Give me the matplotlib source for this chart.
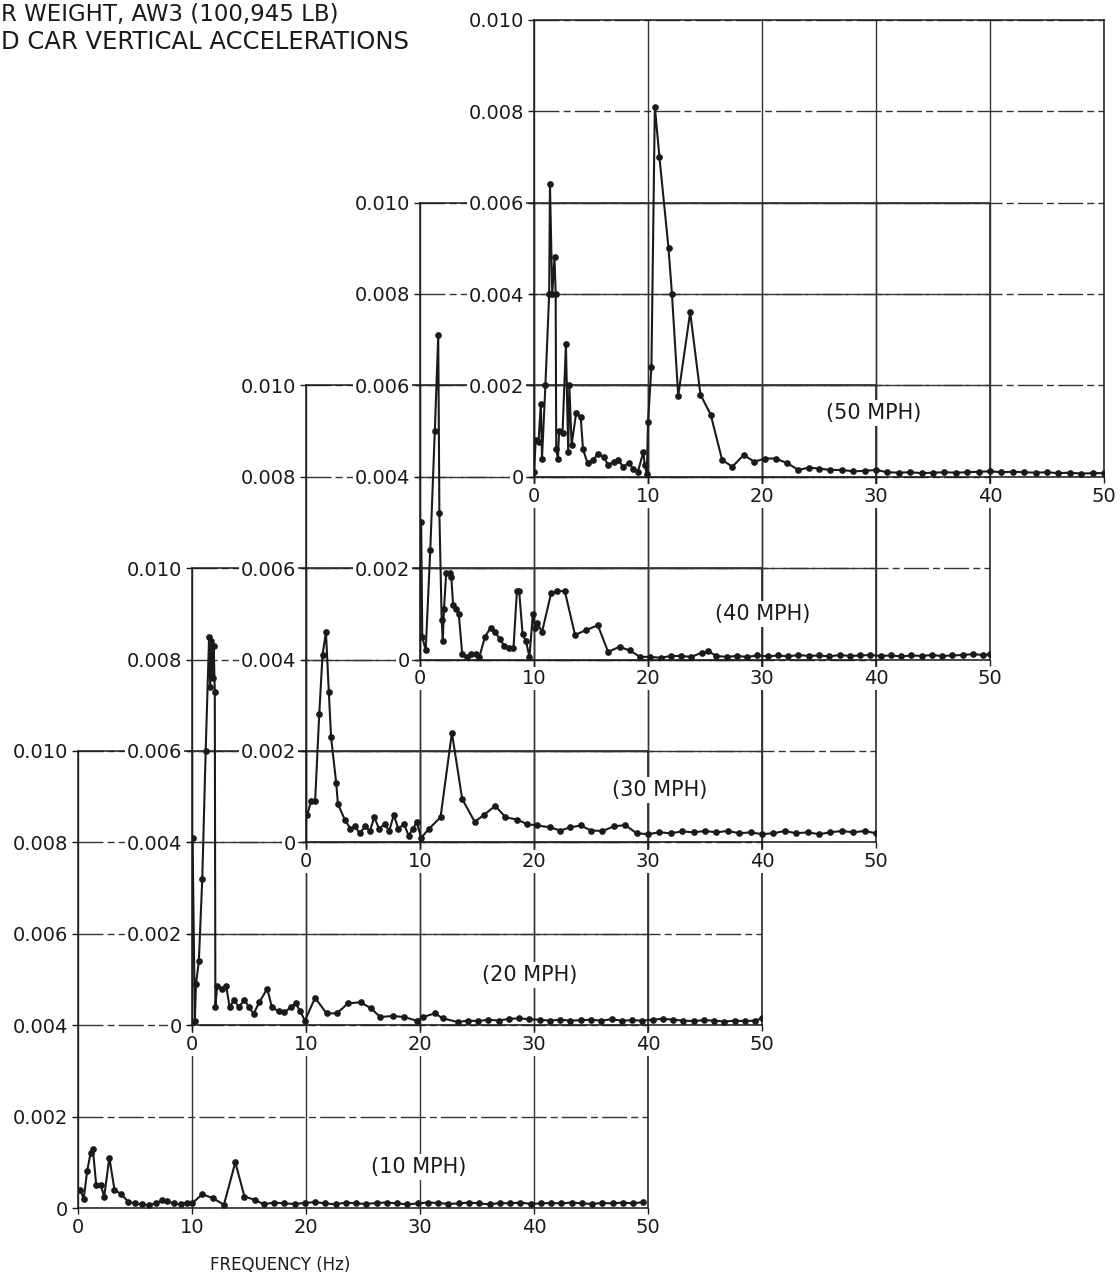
import matplotlib
matplotlib.use("Agg")
import matplotlib.pyplot as plt

plt.rcParams['font.family'] = ['DejaVu Sans']

# spectra: (frequency Hz, acceleration)
spec10 = [(0.2, 0.0004), (0.5, 0.0002), (0.8, 0.0008), (1.1, 0.0012), (1.3, 0.0013),
          (1.6, 0.0005), (2.0, 0.0005), (2.3, 0.00025), (2.75, 0.0011), (3.2, 0.0004),
          (3.8, 0.0003), (4.4, 0.00014), (5.0, 0.0001), (5.6, 0.00008), (6.2, 0.00006),
          (6.8, 0.0001), (7.4, 0.00017), (7.8, 0.00015), (8.4, 0.0001), (9.0, 0.00008),
          (9.6, 0.00012), (10.0, 0.0001), (10.9, 0.0003), (11.8, 0.00022), (12.8, 0.00007),
          (13.8, 0.001), (14.6, 0.00025), (15.5, 0.00018), (16.3, 0.00008), (17.2, 0.00012),
          (18.1, 0.0001), (19.0, 0.00009), (19.9, 0.00011), (20.8, 0.00013), (21.7, 0.0001),
          (22.6, 0.00008), (23.5, 0.00012), (24.4, 0.0001), (25.3, 0.00009), (26.2, 0.00011),
          (27.1, 0.00012), (28.0, 0.0001), (28.9, 0.00008), (29.8, 0.0001), (30.7, 0.00012),
          (31.6, 0.00011), (32.5, 0.00009), (33.4, 0.0001), (34.3, 0.00012), (35.2, 0.0001),
          (36.1, 0.00008), (37.0, 0.00011), (37.9, 0.0001), (38.8, 0.00012), (39.7, 0.00009),
          (40.6, 0.0001), (41.5, 0.00011), (42.4, 0.0001), (43.3, 0.00012), (44.2, 0.0001),
          (45.1, 0.00009), (46.0, 0.00011), (46.9, 0.0001), (47.8, 0.00012), (48.7, 0.0001),
          (49.6, 0.00013)]

spec20 = [(0.05, 0.0041), (0.25, 0.0001), (0.35, 0.0009), (0.6, 0.0014), (0.9, 0.0032),
          (1.2, 0.006), (1.5, 0.0085), (1.6, 0.0074), (1.7, 0.0084), (1.8, 0.0076),
          (1.9, 0.0083), (2.0, 0.0073), (2.05, 0.0004), (2.2, 0.00085), (2.6, 0.0008),
          (3.0, 0.00085), (3.3, 0.0004), (3.7, 0.00055), (4.1, 0.0004), (4.6, 0.00055),
          (5.0, 0.0004), (5.4, 0.00025), (5.9, 0.0005), (6.6, 0.0008), (7.0, 0.0004),
          (7.6, 0.0003), (8.1, 0.00028), (8.7, 0.0004), (9.1, 0.00048), (9.5, 0.0003),
          (9.9, 0.0001), (10.8, 0.0006), (11.8, 0.00026), (12.7, 0.00026), (13.7, 0.00048),
          (14.8, 0.0005), (15.7, 0.00037), (16.5, 0.00018), (17.6, 0.0002), (18.6, 0.00018),
          (19.7, 0.0001), (20.3, 0.00018), (21.3, 0.00026), (22.0, 0.00015), (23.3, 0.00007),
          (24.2, 0.0001), (25.1, 0.00009), (26.0, 0.00012), (26.9, 0.0001), (27.8, 0.00014),
          (28.7, 0.00015), (29.6, 0.00013), (30.5, 0.00012), (31.4, 0.0001), (32.3, 0.00012),
          (33.2, 0.0001), (34.1, 0.00011), (35.0, 0.00012), (35.9, 0.0001), (36.8, 0.00013),
          (37.7, 0.0001), (38.6, 0.00011), (39.5, 0.0001), (40.4, 0.00012), (41.3, 0.00014),
          (42.2, 0.00012), (43.1, 0.0001), (44.0, 0.00009), (44.9, 0.00011), (45.8, 0.0001),
          (46.7, 0.00008), (47.6, 0.0001), (48.5, 0.00009), (49.4, 0.0001), (50.0, 0.00015)]

spec30 = [(0.1, 0.0006), (0.44, 0.0009), (0.8, 0.0009), (1.16, 0.0028), (1.45, 0.0041),
          (1.75, 0.0046), (2.0, 0.0033), (2.2, 0.0023), (2.65, 0.0013), (2.8, 0.00084),
          (3.4, 0.0005), (3.9, 0.0003), (4.3, 0.00035), (4.7, 0.0002), (5.2, 0.00035),
          (5.6, 0.00025), (6.0, 0.00055), (6.4, 0.0003), (6.9, 0.0004), (7.3, 0.00025),
          (7.7, 0.0006), (8.1, 0.0003), (8.6, 0.0004), (9.0, 0.00015), (9.4, 0.0003),
          (9.7, 0.00045), (10.1, 0.0001), (10.8, 0.0003), (11.8, 0.00055), (12.8, 0.0024),
          (13.7, 0.00095), (14.8, 0.00045), (15.6, 0.0006), (16.6, 0.0008), (17.5, 0.00055),
          (18.5, 0.0005), (19.4, 0.0004), (20.3, 0.00037), (21.4, 0.00033), (22.3, 0.00026),
          (23.2, 0.00033), (24.1, 0.00037), (25.0, 0.00026), (26.0, 0.00025), (27.0, 0.00035),
          (28.0, 0.00038), (29.0, 0.0002), (30.0, 0.00018), (31.0, 0.00022), (32.0, 0.0002),
          (33.0, 0.00024), (34.0, 0.00022), (35.0, 0.00025), (36.0, 0.00022), (37.0, 0.00025),
          (38.0, 0.0002), (39.0, 0.00022), (40.0, 0.00018), (41.0, 0.0002), (42.0, 0.00025),
          (43.0, 0.0002), (44.0, 0.00022), (45.0, 0.00018), (46.0, 0.00022), (47.0, 0.00025),
          (48.0, 0.00022), (49.0, 0.00025), (50.0, 0.0002)]

spec40 = [(0.1, 0.003), (0.2, 0.0005), (0.5, 0.0002), (0.9, 0.0024), (1.3, 0.005),
          (1.6, 0.0071), (1.7, 0.0032), (1.9, 0.00087), (2.0, 0.0004), (2.1, 0.0011),
          (2.3, 0.0019), (2.6, 0.0019), (2.75, 0.0018), (2.9, 0.0012), (3.2, 0.0011),
          (3.4, 0.001), (3.7, 0.00013), (4.1, 0.00005), (4.5, 0.00013), (4.9, 0.00013),
          (5.2, 0.00005), (5.7, 0.0005), (6.2, 0.0007), (6.6, 0.0006), (7.0, 0.00045),
          (7.4, 0.0003), (7.8, 0.00025), (8.2, 0.00025), (8.5, 0.0015), (8.7, 0.0015),
          (9.0, 0.00055), (9.3, 0.0004), (9.6, 0.00006), (9.9, 0.001), (10.1, 0.0007),
          (10.3, 0.0008), (10.7, 0.0006), (11.5, 0.00145), (12.0, 0.0015), (12.7, 0.0015),
          (13.6, 0.00054), (14.6, 0.00065), (15.6, 0.00075), (16.5, 0.00017), (17.5, 0.00028),
          (18.4, 0.0002), (19.3, 0.00006), (20.2, 0.00006), (21.1, 0.00004), (22.0, 0.00008),
          (22.9, 0.00008), (23.8, 0.00006), (24.7, 0.00015), (25.3, 0.00018), (26.0, 0.00008),
          (26.9, 0.00006), (27.8, 0.00008), (28.7, 0.00006), (29.6, 0.00009), (30.5, 0.00007),
          (31.4, 0.00009), (32.3, 0.00007), (33.2, 0.0001), (34.1, 0.00008), (35.0, 0.00009),
          (35.9, 0.00007), (36.8, 0.0001), (37.7, 0.00008), (38.6, 0.00009), (39.5, 0.0001),
          (40.4, 0.00008), (41.3, 0.00009), (42.2, 0.00007), (43.1, 0.00009), (44.0, 0.00008),
          (44.9, 0.0001), (45.8, 0.00008), (46.7, 0.00009), (47.6, 0.0001), (48.5, 0.00012),
          (49.4, 0.0001), (50.0, 0.00012)]

spec50 = [(0.0, 0.0001), (0.15, 0.0008), (0.4, 0.00077), (0.6, 0.0016), (0.7, 0.0004),
          (1.0, 0.002), (1.33, 0.004), (1.4, 0.0064), (1.6, 0.004), (1.8, 0.0048),
          (1.9, 0.004), (1.95, 0.0006), (2.1, 0.0004), (2.2, 0.001), (2.5, 0.00095),
          (2.8, 0.0029), (3.0, 0.00055), (3.1, 0.002), (3.3, 0.0007), (3.7, 0.0014),
          (4.1, 0.0013), (4.3, 0.0006), (4.7, 0.0003), (5.2, 0.00037), (5.6, 0.0005),
          (6.1, 0.00044), (6.5, 0.00026), (7.0, 0.00033), (7.4, 0.00037), (7.8, 0.00022),
          (8.3, 0.0003), (8.7, 0.00018), (9.1, 0.0001), (9.6, 0.00055), (9.7, 0.00026),
          (9.9, 0.00007), (10.0, 0.0012), (10.3, 0.0024), (10.6, 0.0081), (11.0, 0.007),
          (11.8, 0.005), (12.1, 0.004), (12.65, 0.00177), (13.7, 0.0036), (14.6, 0.0018),
          (15.5, 0.00136), (16.5, 0.00037), (17.4, 0.00022), (18.4, 0.00048), (19.3, 0.00033),
          (20.3, 0.0004), (21.2, 0.0004), (22.2, 0.0003), (23.2, 0.00015), (24.1, 0.0002),
          (25.0, 0.00018), (26.0, 0.00015), (27.0, 0.00015), (28.0, 0.00012), (29.0, 0.00013),
          (30.0, 0.00015), (31.0, 0.0001), (32.0, 0.00009), (33.0, 0.0001), (34.0, 0.00008),
          (35.0, 0.00009), (36.0, 0.0001), (37.0, 0.00009), (38.0, 0.0001), (39.0, 0.00011),
          (40.0, 0.00012), (41.0, 0.0001), (42.0, 0.00011), (43.0, 0.0001), (44.0, 0.00009),
          (45.0, 0.0001), (46.0, 0.00008), (47.0, 0.00009), (48.0, 0.00007), (49.0, 0.00008),
          (50.0, 0.00008)]

speeds = ['(10 MPH)', '(20 MPH)', '(30 MPH)', '(40 MPH)', '(50 MPH)']
spectra = [spec10, spec20, spec30, spec40, spec50]
label_pos = [(29.9, 0.0009), (29.6, 0.0011), (31.0, 0.00115), (30.1, 0.001), (29.8, 0.0014)]

x_ticks = [0, 10, 20, 30, 40, 50]
y_ticks = [0, 0.002, 0.004, 0.006, 0.008, 0.010]
y_ticklabels = ['0', '0.002', '0.004', '0.006', '0.008', '0.010']

# the heading is cut off at the left edge of the source page; keep what shows
title_lines = ['R WEIGHT, AW3 (100,945 LB)', 'D CAR VERTICAL ACCELERATIONS']

# each panel sits 10 Hz to the right and 0.004 up from the one below,
# so the grids of neighbouring panels fall on the same lines
W, H = 1120, 1280
left0, bottom0 = 78, 1208      # pixels, lowest panel
pw, ph = 570, 457
dx, dy = pw / 5, ph * 0.4

ink = '#1a1a1a'
fig = plt.figure(figsize=(W / 100, H / 100), dpi=100)

for i, spec in enumerate(spectra):
    left = left0 + i * dx
    bottom = bottom0 - i * dy
    ax = fig.add_axes([left / W, 1 - bottom / H, pw / W, ph / H])
    ax.set_zorder(i + 1)
    ax.patch.set_visible(False)
    f = [p[0] for p in spec]
    v = [p[1] for p in spec]
    ax.plot(f, v, color=ink, lw=1.5, marker='o', ms=3.8, zorder=5)
    ax.set_xlim(0, 50)
    ax.set_ylim(0, 0.010)
    ax.set_xticks(x_ticks)
    ax.set_yticks(y_ticks)
    ax.set_yticklabels(y_ticklabels)
    ax.tick_params(direction='out', length=4, width=1, color=ink,
                   labelsize=14, labelcolor=ink, pad=3)
    for lbl in ax.get_xticklabels() + ax.get_yticklabels():
        lbl.set_bbox(dict(fc='white', ec='none', pad=1.5))
    ax.grid(axis='x', color='#333333', lw=1.0)
    ax.grid(axis='y', color='#333333', lw=1.0, ls=(0, (18, 3, 5, 3)))
    for s in ax.spines.values():
        s.set_color(ink)
        s.set_linewidth(1.1)
    ax.text(label_pos[i][0], label_pos[i][1], speeds[i], ha='center', va='center',
            fontsize=15, color=ink, zorder=6,
            bbox=dict(fc='white', ec='none', pad=2))

fig.text(1 / W, 1 - 15 / H, title_lines[0], ha='left', va='center',
         fontsize=16.5, color=ink)
fig.text(1 / W, 1 - 42 / H, title_lines[1], ha='left', va='center',
         fontsize=17.5, color=ink)
fig.text(280 / W, 1 - 1265 / H, 'FREQUENCY (Hz)', ha='center', va='center',
         fontsize=12, color=ink)

fig.savefig('out.png', dpi=100)
